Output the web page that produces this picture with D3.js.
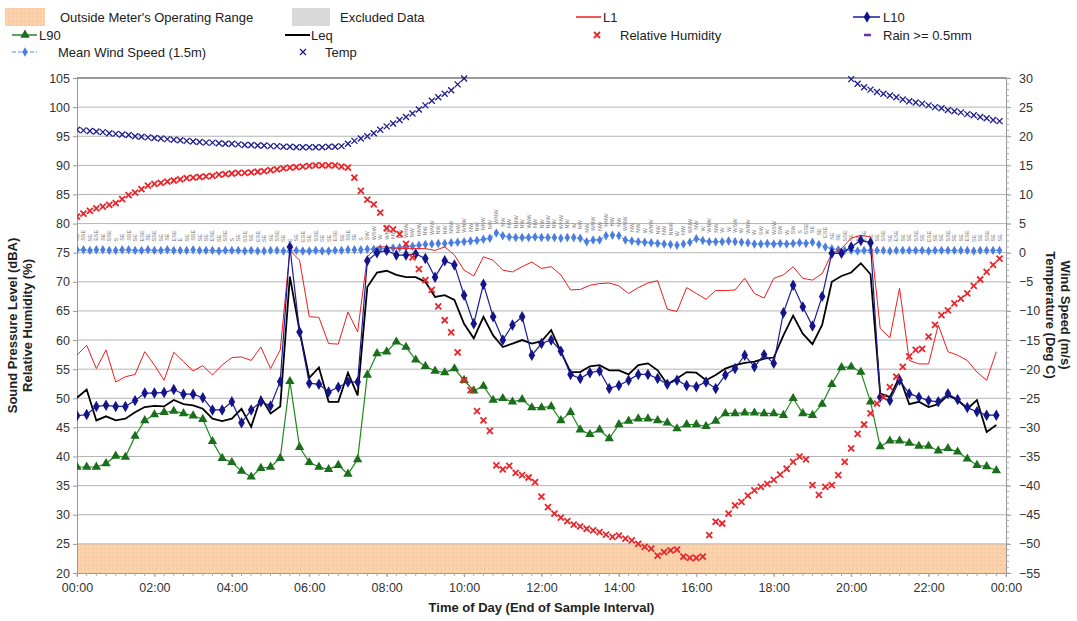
<!DOCTYPE html>
<html><head><meta charset="utf-8">
<script src="https://cdn.jsdelivr.net/npm/d3@7"></script>
<style>body{margin:0;background:#fff}svg{display:block;font-family:"Liberation Sans",Arial,sans-serif}</style>
</head><body><svg id="c" width="1077" height="621"></svg>
<script>
// ---- 15-minute noise data (00:00 .. 23:45) ----
const L1 = [57.4,59.1,55.1,58.3,52.8,53.7,54.1,58.0,55.7,53.1,57.9,56.3,54.7,55.6,54.0,55.7,57.0,57.1,56.5,58.8,55.1,58.3,75.4,73.7,64.0,63.9,
  59.4,59.3,64.8,61.4,74.3,76.0,76.0,75.7,75.7,75.7,75.7,75.4,76.0,74.6,72.0,71.0,74.3,73.7,72.0,71.7,72.6,73.4,72.3,72.6,71.2,
  68.6,68.7,69.4,69.7,69.8,69.3,68.0,69.0,69.8,70.2,65.3,64.9,69.0,68.0,67.0,68.5,68.5,68.6,70.6,68.0,
  67.2,70.6,71.2,72.6,70.6,70.3,71.4,74.9,75.7,77.5,78.0,77.7,62.0,60.4,68.9,56.5,55.9,55.9,62.6,58.0,57.4,56.5,54.5,53.1,58.0];
const L10 = [47.0,47.2,48.6,48.8,48.6,48.6,49.6,50.9,50.9,51.0,51.5,50.7,50.7,50.1,48.0,48.0,49.4,45.8,48.0,49.4,48.7,52.9,76.0,61.4,52.6,52.4,
  51.1,51.9,52.8,52.8,73.6,75.0,75.4,74.6,74.6,74.8,74.0,70.8,73.6,72.9,67.7,62.8,69.6,64.0,60.0,62.6,64.0,57.4,59.4,60.0,58.1,
  54.1,53.4,54.4,54.7,51.7,52.2,53.1,54.1,54.1,53.4,52.4,53.1,52.2,52.0,52.8,51.7,54.0,55.1,57.4,55.4,
  57.5,56.0,64.7,69.4,65.7,62.4,67.5,74.9,74.9,76.0,77.1,76.7,50.2,49.6,53.1,50.8,50.2,49.6,49.4,50.8,49.8,48.4,47.7,47.1,47.1];
const L90 = [38.2,38.2,38.2,38.8,40.1,39.9,43.5,46.2,47.2,47.6,47.8,47.4,47.0,46.4,42.6,39.7,39.0,37.5,36.5,38.0,38.2,39.7,52.9,41.6,39.0,38.2,
  37.8,38.5,37.0,39.5,54.0,57.7,58.0,59.7,58.8,56.6,55.5,54.7,54.4,55.1,53.1,51.3,52.1,49.7,50.0,49.4,49.8,48.4,48.4,48.6,46.2,
  47.6,44.6,43.8,44.6,43.1,45.5,46.1,46.5,46.5,46.2,45.8,44.8,45.5,45.5,45.2,46.1,47.4,47.4,47.5,47.5,
  47.4,47.4,47.1,50.0,47.4,47.1,49.0,52.4,55.3,55.4,54.5,49.4,41.7,42.7,42.7,42.3,41.8,41.8,41.0,41.4,40.8,39.6,38.5,38.3,37.6];
const Leq = [50.1,51.5,46.2,46.9,46.2,46.5,47.6,48.5,48.7,48.6,49.7,49.0,48.8,48.2,46.5,46.1,46.5,48.2,45.1,50.2,47.4,48.6,70.9,61.6,53.5,55.3,
  49.4,49.4,54.4,50.5,69.1,71.6,71.9,71.2,70.8,70.8,70.0,67.4,67.7,66.9,62.8,60.3,64.0,60.8,58.8,59.4,60.0,59.4,59.8,61.7,58.0,
  54.5,54.5,55.5,55.7,54.8,54.8,54.1,55.7,56.0,54.8,52.4,53.4,54.5,54.4,53.1,54.0,55.1,55.7,56.1,56.3,
  56.8,57.0,60.8,64.2,61.1,59.3,62.6,70.0,71.0,71.6,73.2,71.3,50.8,50.2,53.7,49.0,49.4,48.5,49.0,50.5,49.7,48.2,49.7,44.2,45.4];

// ---- 10-minute weather data (00:00 .. 23:50) ----
const RH = [81.2,81.7,82.2,82.6,82.9,83.2,83.5,84.2,84.9,85.3,85.9,86.5,86.8,
  87.0,87.2,87.4,87.6,87.8,87.9,88.0,88.1,88.2,88.4,88.5,88.6,88.7,88.7,88.8,88.9,89.0,89.2,89.3,89.5,89.6,89.7,89.8,89.9,90.0,90.0,90.0,90.0,89.8,89.6,
  87.9,85.6,84.1,83.3,81.9,79.2,79.0,78.2,76.5,74.2,72.2,70.3,68.6,65.8,63.4,61.3,57.9,53.1,51.4,47.8,46.2,44.4,38.5,37.8,38.4,
  37.2,36.8,36.4,35.6,33.1,31.3,30.2,29.5,28.9,28.3,28.0,27.6,27.3,27.0,26.6,26.2,26.4,25.9,25.6,25.0,24.5,24.2,23.0,23.6,23.9,24.0,22.8,22.6,22.6,22.8,
  26.5,28.8,28.5,30.2,31.6,32.2,33.3,34.2,34.8,35.3,36.0,36.9,37.9,39.1,40.0,39.5,35.1,33.4,34.8,35.1,36.8,39.1,41.4,43.9,45.5,
  47.4,49.1,50.2,51.9,53.7,55.4,57.2,58.3,58.5,60.6,62.6,64.3,65.1,66.3,67.1,68.0,69.3,70.4,71.7,72.9,74.0];
const Temp = [21.1,21.0,20.9,20.8,20.7,20.5,20.4,20.3,20.2,20.0,
  19.9,19.8,19.7,19.6,19.5,19.4,19.3,19.2,19.1,19.0,
  18.9,18.9,18.8,18.7,18.7,18.6,18.5,18.5,18.4,18.4,
  18.3,18.3,18.2,18.2,18.1,18.1,18.1,18.1,18.1,18.2,
  18.2,18.3,18.7,19.2,19.6,20.0,20.5,21.1,21.7,22.2,
  22.8,23.3,23.9,24.6,25.3,26.1,26.7,27.3,27.9,28.9,29.9,
  null,null,null,null,null,null,null,null,null,null,
  null,null,null,null,null,null,null,null,null,null,
  null,null,null,null,null,null,null,null,null,null,
  null,null,null,null,null,null,null,null,null,null,
  null,null,null,null,null,null,null,null,null,null,
  null,null,null,null,null,null,null,null,null,
  29.8,29.0,28.4,28.0,27.6,27.3,27.0,26.7,26.3,26.0,25.8,25.6,
  25.3,25.0,24.8,24.5,24.3,24.1,23.8,23.6,23.3,23.1,22.8,22.6];
const Wind = [0.5,0.5,0.4,0.5,0.5,0.4,0.4,0.5,0.5,0.4,0.4,0.5,0.4,0.4,0.5,0.4,0.4,0.4,0.5,0.4,
  0.4,0.4,0.3,0.4,0.4,0.4,0.3,0.4,0.3,0.3,0.4,0.4,0.3,0.3,0.4,0.3,0.3,0.4,0.3,0.3,0.4,0.4,0.5,0.5,0.5,
  0.6,0.6,0.7,0.7,0.8,0.9,1.0,1.1,1.3,1.4,1.5,1.6,1.6,1.7,1.8,1.9,2.0,2.1,2.3,2.5,3.4,2.9,2.7,2.6,2.6,2.6,2.7,
  2.6,2.6,2.6,2.5,2.6,2.6,2.5,1.9,2.2,2.2,2.9,3.0,2.9,2.2,2.0,1.9,1.8,1.7,1.6,1.5,1.4,1.3,1.5,1.8,2.4,2.1,1.9,1.9,1.9,2.0,1.9,1.8,1.7,
  1.5,1.5,1.6,1.5,1.6,1.5,1.6,1.7,1.6,1.8,1.4,1.0,0.7,0.5,
  0.4,0.4,0.3,0.4,0.4,0.4,0.4,0.3,0.4,0.4,0.4,0.4,0.4,0.3,0.4,0.4,0.4,0.4,0.4,0.4,0.3,0.4,0.4,0.4,0.4];
const WindDir = ["SE","SSE","SE","ESE","SE","SSE","S","SE","SSE","SE","ESE","SE",
  "SSE","SE","SE","ESE","E","SE","SSE","SE","SE","ESE","SE","SSE",
  "S","SE","SSE","SE","ESE","SE","SE","SSE","SE","E","SE","ESE",
  "SE","SSE","SE","SE","ESE","SE","SSE","SE","S","SW","WSW","W",
  "WNW","NW","NW","WNW","NW","NNW","NW","WNW","NW","NW","NNW","NW",
  "WNW","NW","NW","NNW","NW","WNW","NW","NW","NNW","NW","WNW","NW",
  "NW","NNW","NW","WNW","NW","W","NW","NW","WNW","NW","NNW","NW",
  "NW","WNW","NW","NW","W","WNW","NW","NW","NNW","W","NW","WNW",
  "NW","W","WNW","NW","W","W","WSW","W","WNW","W","SW","W",
  "WSW","SW","W","SW","S","SSE","SE","SE","ESE","SE","SE","SSE",
  "SE","SE","ESE","SE","SE","SSE","SE","ESE","SE","SE","SSE","SE",
  "ESE","SE","SE","SSE","SE","SE","ESE","SE","SE","SSE","SE","SE"];

const xTickLabels = ["00:00","02:00","04:00","06:00","08:00","10:00","12:00","14:00","16:00","18:00","20:00","22:00","00:00"];
const leftTicks = [20,25,30,35,40,45,50,55,60,65,70,75,80,85,90,95,100,105];
const rightTicks = [-55,-50,-45,-40,-35,-30,-25,-20,-15,-10,-5,0,5,10,15,20,25,30];

// ---- layout ----
const svg = d3.select("#c");
const X0 = 77, X1 = 1006, Y0 = 78, Y1 = 573;
const x = d3.scaleLinear().domain([0, 1440]).range([X0, X1]);
const yL = d3.scaleLinear().domain([20, 105]).range([Y1, Y0]);
const yR = d3.scaleLinear().domain([-55, 30]).range([Y1, Y0]);
const t15 = i => i * 15, t10 = j => j * 10;

const defs = svg.append("defs");
defs.append("clipPath").attr("id","clip").append("rect")
  .attr("x", X0).attr("y", Y0-4).attr("width", X1-X0).attr("height", Y1-Y0+4);
const pat = defs.append("pattern").attr("id","dots").attr("patternUnits","userSpaceOnUse")
  .attr("width",4).attr("height",4);
pat.append("rect").attr("width",4).attr("height",4).attr("fill","#fbd2ab");
pat.append("circle").attr("cx",1).attr("cy",1).attr("r",0.7).attr("fill","#f5bd8a");

// operating range band
svg.append("rect").attr("x", X0).attr("y", yL(25)).attr("width", X1 - X0)
  .attr("height", yL(20) - yL(25)).attr("fill", "url(#dots)");

// grid
svg.append("g").selectAll("line").data(leftTicks.filter(v => v > 20)).join("line")
  .attr("x1", X0).attr("x2", X1).attr("y1", d => yL(d)).attr("y2", d => yL(d))
  .attr("stroke", d => d === 105 ? "#777" : "#b4b4b4").attr("stroke-width", d => d === 105 ? 1.6 : 1);

// left axis
const gl = svg.append("g").attr("transform", `translate(${X0},0)`)
  .call(d3.axisLeft(yL).tickValues(leftTicks).tickSize(4).tickPadding(3));
gl.select(".domain").attr("stroke", "#999");
gl.selectAll(".tick line").attr("stroke", "#999");
gl.selectAll("text").attr("font-size", 12.5).attr("fill", "#333").attr("font-family","Liberation Sans, Arial");

// right axis
const gr = svg.append("g").attr("transform", `translate(${X1},0)`)
  .call(d3.axisRight(yR).tickValues(rightTicks).tickSize(5).tickPadding(8));
gr.select(".domain").attr("stroke", "#999");
gr.selectAll(".tick line").attr("stroke", "#999");
gr.selectAll("text").attr("font-size", 12.5).attr("fill", "#333").attr("font-family","Liberation Sans, Arial");
svg.append("g").selectAll("line").data(d3.range(-55, 31)).join("line")
  .attr("x1", X1).attr("x2", X1 + 3).attr("y1", d => yR(d)).attr("y2", d => yR(d))
  .attr("stroke", "#aaa");

// bottom axis
const gb = svg.append("g").attr("transform", `translate(0,${Y1})`)
  .call(d3.axisBottom(x).tickValues(d3.range(0, 1441, 120)).tickSize(4).tickPadding(6)
    .tickFormat((d, i) => xTickLabels[i]));
gb.select(".domain").attr("stroke", "#999");
gb.selectAll(".tick line").attr("stroke", "#999");
gb.selectAll("text").attr("font-size", 12.5).attr("fill", "#333").attr("font-family","Liberation Sans, Arial");
svg.append("g").selectAll("line").data(d3.range(0, 1441, 15)).join("line")
  .attr("x1", d => x(d)).attr("x2", d => x(d)).attr("y1", Y1).attr("y2", Y1 + 3).attr("stroke", "#aaa");

// axis titles
svg.append("text").attr("transform", `translate(17,${(Y0+Y1)/2}) rotate(-90)`).attr("text-anchor","middle")
  .attr("font-size", 13).attr("font-weight","bold").attr("fill","#222").text("Sound Pressure Level (dBA)");
svg.append("text").attr("transform", `translate(32,${(Y0+Y1)/2}) rotate(-90)`).attr("text-anchor","middle")
  .attr("font-size", 13).attr("font-weight","bold").attr("fill","#222").text("Relative Humidity (%)");
svg.append("text").attr("transform", `translate(1061,315) rotate(90)`).attr("text-anchor","middle")
  .attr("font-size", 13).attr("font-weight","bold").attr("fill","#222").text("Wind Speed (m/s)");
svg.append("text").attr("transform", `translate(1046,315) rotate(90)`).attr("text-anchor","middle")
  .attr("font-size", 13).attr("font-weight","bold").attr("fill","#222").text("Temperature (Deg C)");
svg.append("text").attr("x", (X0+X1)/2).attr("y", 612).attr("text-anchor","middle")
  .attr("font-size", 13).attr("font-weight","bold").attr("fill","#222").text("Time of Day (End of Sample Interval)");

// ---- series ----
const plot = svg.append("g").attr("clip-path", "url(#clip)");
const crossPath = s => `M${-s},${-s}L${s},${s}M${s},${-s}L${-s},${s}`;

// wind direction labels
plot.append("g").selectAll("text").data(Wind).join("text")
  .attr("transform", (d, j) => `translate(${x(t10(j)) + 2},${yR(d) - 9}) rotate(-90)`)
  .attr("font-size", 5.5).attr("fill", "#777").text((d, j) => WindDir[j]);

// wind speed
const windLine = d3.line().x((d, j) => x(t10(j))).y(d => yR(d));
plot.append("path").datum(Wind).attr("d", windLine).attr("fill","none")
  .attr("stroke","#5b8ee6").attr("stroke-width",1.2).attr("stroke-dasharray","4,2");
plot.append("g").selectAll("path").data(Wind).join("path")
  .attr("transform", (d, j) => `translate(${x(t10(j))},${yR(d)})`)
  .attr("d", d3.symbol().type(d3.symbolDiamond).size(26)).attr("fill","#4a7ee0");

// L90
const nLine = d3.line().x((d, i) => x(t15(i))).y(d => yL(d));
plot.append("path").datum(L90).attr("d", nLine).attr("fill","none").attr("stroke","#1f8a1f").attr("stroke-width",1.2);
plot.append("g").selectAll("path").data(L90).join("path")
  .attr("transform", (d, i) => `translate(${x(t15(i))},${yL(d)})`)
  .attr("d", d3.symbol().type(d3.symbolTriangle).size(38)).attr("fill","#1b6e1b");

// L1
plot.append("path").datum(L1).attr("d", nLine).attr("fill","none").attr("stroke","#ee1c1c").attr("stroke-width",1);

// Leq
plot.append("path").datum(Leq).attr("d", nLine).attr("fill","none").attr("stroke","#000").attr("stroke-width",1.8);

// L10
plot.append("path").datum(L10).attr("d", nLine).attr("fill","none").attr("stroke","#1c1c96").attr("stroke-width",1.2);
plot.append("g").selectAll("path").data(L10).join("path")
  .attr("transform", (d, i) => `translate(${x(t15(i))},${yL(d)})`)
  .attr("d", d3.symbol().type(d3.symbolDiamond).size(38)).attr("fill","#15158a");

// Relative humidity
plot.append("g").selectAll("path").data(RH).join("path")
  .attr("transform", (d, j) => `translate(${x(t10(j))},${yL(d)})`)
  .attr("d", crossPath(3)).attr("stroke","#e8262b").attr("stroke-width",1.8).attr("fill","none");

// Temp
plot.append("g").selectAll("path").data(Temp.map((v, j) => [j, v]).filter(d => d[1] !== null)).join("path")
  .attr("transform", d => `translate(${x(t10(d[0]))},${yR(d[1])})`)
  .attr("d", crossPath(3)).attr("stroke","#1c1c8c").attr("stroke-width",1.3).attr("fill","none");

// ---- legend ----
const lg = svg.append("g").attr("font-size", 13).attr("fill", "#222");
const ltext = (tx, ty, s) => lg.append("text").attr("x", tx).attr("y", ty + 4.5).text(s);
lg.append("rect").attr("x",5).attr("y",8).attr("width",40).attr("height",18).attr("fill","url(#dots)");
ltext(60, 17, "Outside Meter's Operating Range");
lg.append("rect").attr("x",292).attr("y",8).attr("width",38).attr("height",18).attr("fill","#d9d9d9");
ltext(340, 17, "Excluded Data");
lg.append("line").attr("x1",576).attr("x2",601).attr("y1",17).attr("y2",17).attr("stroke","#ee1c1c").attr("stroke-width",1.5);
ltext(603, 17, "L1");
lg.append("line").attr("x1",853).attr("x2",880).attr("y1",17).attr("y2",17).attr("stroke","#1c1c96").attr("stroke-width",1.5);
lg.append("path").attr("transform","translate(867,17)").attr("d", d3.symbol().type(d3.symbolDiamond).size(38)).attr("fill","#15158a");
ltext(883, 17, "L10");

lg.append("line").attr("x1",12).attr("x2",37).attr("y1",35).attr("y2",35).attr("stroke","#1f8a1f").attr("stroke-width",1.5);
lg.append("path").attr("transform","translate(25,35)").attr("d", d3.symbol().type(d3.symbolTriangle).size(38)).attr("fill","#1b6e1b");
ltext(39, 35, "L90");
lg.append("line").attr("x1",285).attr("x2",310).attr("y1",35).attr("y2",35).attr("stroke","#000").attr("stroke-width",2);
ltext(311, 35, "Leq");
lg.append("path").attr("transform","translate(597,35)").attr("d", crossPath(3)).attr("stroke","#e8262b").attr("stroke-width",1.8);
ltext(620, 35, "Relative Humidity");
lg.append("line").attr("x1",864).attr("x2",871).attr("y1",35).attr("y2",35).attr("stroke","#7030a0").attr("stroke-width",2.5);
ltext(883, 35, "Rain >= 0.5mm");

lg.append("line").attr("x1",12).attr("x2",37).attr("y1",52).attr("y2",52).attr("stroke","#5b8ee6").attr("stroke-width",1.2).attr("stroke-dasharray","4,2");
lg.append("path").attr("transform","translate(25,52)").attr("d", d3.symbol().type(d3.symbolDiamond).size(26)).attr("fill","#4a7ee0");
ltext(58, 52, "Mean Wind Speed (1.5m)");
lg.append("path").attr("transform","translate(303,52)").attr("d", crossPath(3)).attr("stroke","#1c1c8c").attr("stroke-width",1.3);
ltext(325, 52, "Temp");
</script></body></html>
